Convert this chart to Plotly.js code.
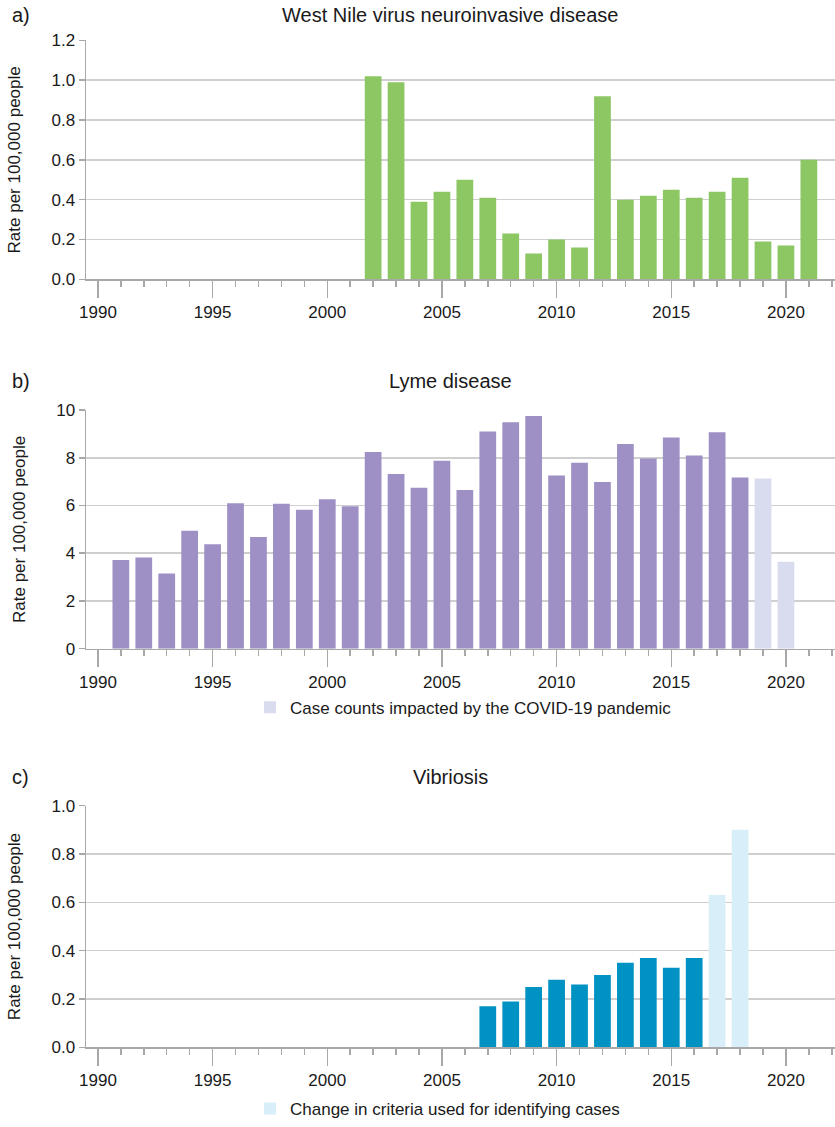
<!DOCTYPE html>
<html>
<head>
<meta charset="utf-8">
<script src="https://cdn.plot.ly/plotly-3.0.1.min.js"></script>
<style>html,body{margin:0;padding:0;background:#fff;}#chart{width:835px;height:1127px;}</style>
</head>
<body>
<div id="chart"></div>
<script>
// ---- Data ----
const wnvYears = [2002, 2003, 2004, 2005, 2006, 2007, 2008, 2009, 2010, 2011, 2012, 2013, 2014, 2015, 2016, 2017, 2018, 2019, 2020, 2021];
const wnvRates = [1.02, 0.99, 0.39, 0.44, 0.50, 0.41, 0.23, 0.13, 0.20, 0.16, 0.92, 0.40, 0.42, 0.45, 0.41, 0.44, 0.51, 0.19, 0.17, 0.60];

const lymeYears = [1991, 1992, 1993, 1994, 1995, 1996, 1997, 1998, 1999, 2000, 2001, 2002, 2003, 2004, 2005, 2006, 2007, 2008, 2009, 2010, 2011, 2012, 2013, 2014, 2015, 2016, 2017, 2018];
const lymeRates = [3.72, 3.82, 3.15, 4.94, 4.38, 6.10, 4.68, 6.07, 5.82, 6.26, 5.97, 8.24, 7.32, 6.75, 7.88, 6.65, 9.10, 9.49, 9.75, 7.26, 7.79, 6.99, 8.58, 7.97, 8.85, 8.10, 9.07, 7.18];
const lymeCovidYears = [2019, 2020];
const lymeCovidRates = [7.13, 3.64];

const vibYears = [2007, 2008, 2009, 2010, 2011, 2012, 2013, 2014, 2015, 2016];
const vibRates = [0.17, 0.19, 0.25, 0.28, 0.26, 0.30, 0.35, 0.37, 0.33, 0.37];
const vibChangeYears = [2017, 2018];
const vibChangeRates = [0.63, 0.90];

const panelTitles = ['West Nile virus neuroinvasive disease', 'Lyme disease', 'Vibriosis'];
const panelLabels = ['a)', 'b)', 'c)'];
const yTitle = 'Rate per 100,000 people';
const legendLyme = 'Case counts impacted by the COVID-19 pandemic';
const legendVib = 'Change in criteria used for identifying cases';

// ---- Styling ----
const W = 835, H = 1127, L = 86;
const FONT = 'Liberation Sans, Arial, sans-serif';
const TXT = '#1a1a1a';
const AXC = '#a8a8a8';
const GRID = '#cfcfcf';
const BARW = 0.73;

function py(pix) { return 1 - pix / H; }
function px(pix) { return (pix - L) / (W - L); }

function xAxis(anchor) {
  return {
    anchor: anchor, range: [1989.48, 2022.14], tick0: 1990, dtick: 5,
    ticks: 'outside', ticklen: 17, tickwidth: 1.5, tickcolor: AXC,
    showline: true, linecolor: AXC, linewidth: 1.5,
    showgrid: false, zeroline: false, fixedrange: true,
    tickfont: {size: 17, color: TXT, family: FONT},
    minor: {tick0: 1990, dtick: 1, ticks: 'outside', ticklen: 6, tickwidth: 1.5, tickcolor: AXC, showgrid: false}
  };
}
function yAxis(anchor, dom, range, dtick, fmt) {
  return {
    anchor: anchor, domain: dom, range: range, dtick: dtick, tick0: 0, tickformat: fmt,
    ticks: 'outside', ticklen: 6, tickwidth: 1.5, tickcolor: AXC,
    showline: true, linecolor: AXC, linewidth: 1.5,
    showgrid: true, gridcolor: GRID, gridwidth: 1.5, zeroline: false, fixedrange: true,
    tickfont: {size: 17, color: TXT, family: FONT},
    title: {text: yTitle, font: {size: 17, color: TXT, family: FONT}, standoff: 26}
  };
}

const traces = [
  {type: 'bar', x: wnvYears, y: wnvRates, width: BARW, xaxis: 'x', yaxis: 'y',
   marker: {color: '#8cc763'}, showlegend: false, hoverinfo: 'x+y'},
  {type: 'bar', x: lymeYears, y: lymeRates, width: BARW, xaxis: 'x2', yaxis: 'y2',
   marker: {color: '#9e90c5'}, showlegend: false},
  {type: 'bar', x: lymeCovidYears, y: lymeCovidRates, width: BARW, xaxis: 'x2', yaxis: 'y2',
   marker: {color: '#d9dbee'}, name: legendLyme, showlegend: true, legend: 'legend'},
  {type: 'bar', x: vibYears, y: vibRates, width: BARW, xaxis: 'x3', yaxis: 'y3',
   marker: {color: '#0092c3'}, showlegend: false},
  {type: 'bar', x: vibChangeYears, y: vibChangeRates, width: BARW, xaxis: 'x3', yaxis: 'y3',
   marker: {color: '#d8eef8'}, name: legendVib, showlegend: true, legend: 'legend2'}
];

const titleY = [15, 383, 782];
const annotations = [];
for (let i = 0; i < 3; i++) {
  annotations.push({xref: 'paper', yref: 'paper', x: px(450), y: py(titleY[i]), xanchor: 'center', yanchor: 'middle',
    text: panelTitles[i], showarrow: false, font: {size: 20, color: TXT, family: FONT}});
  annotations.push({xref: 'paper', yref: 'paper', x: px(10), y: py(titleY[i]), xanchor: 'left', yanchor: 'middle',
    text: panelLabels[i], showarrow: false, font: {size: 20, color: TXT, family: FONT}});
}

const legendCommon = {orientation: 'h', xanchor: 'left', yanchor: 'middle', bgcolor: 'rgba(0,0,0,0)',
  font: {size: 17, color: TXT, family: FONT}, itemwidth: 30, itemclick: false, itemdoubleclick: false};

const layout = {
  width: W, height: H,
  margin: {l: L, r: 0, t: 0, b: 0},
  paper_bgcolor: '#fff', plot_bgcolor: '#fff',
  font: {family: FONT, color: TXT},
  barmode: 'overlay',
  xaxis: xAxis('y'),
  xaxis2: xAxis('y2'),
  xaxis3: xAxis('y3'),
  yaxis: yAxis('x', [py(281), py(40.7)], [0, 1.2], 0.2, '.1f'),
  yaxis2: yAxis('x2', [py(652.7), py(412.7)], [0, 10], 2, 'd'),
  yaxis3: yAxis('x3', [py(1054), py(810.7)], [0, 1.0], 0.2, '.1f'),
  legend: Object.assign({}, legendCommon, {x: px(250), y: py(712)}),
  legend2: Object.assign({}, legendCommon, {x: px(250), y: py(1116)}),
  annotations: annotations
};

Plotly.newPlot('chart', traces, layout, {displayModeBar: false, staticPlot: true});
</script>
</body>
</html>
